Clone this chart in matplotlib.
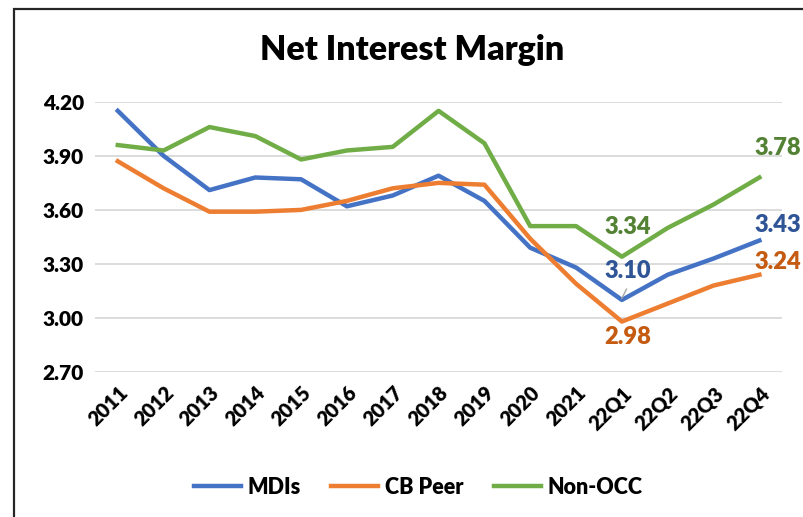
import matplotlib.pyplot as plt
from matplotlib.patches import Rectangle
from matplotlib.transforms import ScaledTranslation

# Net interest margin by period
periods = ["2011", "2012", "2013", "2014", "2015", "2016", "2017", "2018",
           "2019", "2020", "2021", "22Q1", "22Q2", "22Q3", "22Q4"]
mdis = [4.15, 3.90, 3.71, 3.78, 3.77, 3.62, 3.68, 3.79, 3.65, 3.39, 3.28,
        3.10, 3.24, 3.33, 3.43]
cb_peer = [3.87, 3.72, 3.59, 3.59, 3.60, 3.65, 3.72, 3.75, 3.74, 3.44, 3.19,
           2.98, 3.08, 3.18, 3.24]
non_occ = [3.96, 3.93, 4.06, 4.01, 3.88, 3.93, 3.95, 4.15, 3.97, 3.51, 3.51,
           3.34, 3.50, 3.63, 3.78]
yticks = [2.70, 3.00, 3.30, 3.60, 3.90, 4.20]

plt.rcParams['font.family'] = ['Lato', 'DejaVu Sans']
W = 'heavy'

fig = plt.figure(figsize=(8.04, 5.17), dpi=100)
ax = fig.add_axes([0.118, 0.2805, 0.855, 0.5225])

x = list(range(len(periods)))
c_blue, c_orange, c_green = "#4472C4", "#ED7D31", "#70AD47"
ax.plot(x, mdis, color=c_blue, lw=3.2, label="MDIs", solid_joinstyle='round')
ax.plot(x, cb_peer, color=c_orange, lw=3.2, label="CB Peer", solid_joinstyle='round')
ax.plot(x, non_occ, color=c_green, lw=3.2, label="Non-OCC", solid_joinstyle='round')

ax.set_xlim(-0.5, len(periods) - 0.5)
ax.set_ylim(2.70, 4.20)
ax.set_yticks(yticks)
ax.set_yticklabels([f"{v:.2f}" for v in yticks], fontsize=15, fontweight=W)
ax.set_xticks(x)
ax.set_xticklabels(periods, rotation=45, ha='right', rotation_mode='anchor',
                   fontsize=14.5, fontweight=W)
shift = ScaledTranslation(0.07, 0, fig.dpi_scale_trans)
for t in ax.get_xticklabels():
    t.set_transform(t.get_transform() + shift)
ax.tick_params(length=0, pad=8)
ax.grid(axis='y', color="#D9D9D9", lw=1.3)
ax.set_axisbelow(True)
for s in ax.spines.values():
    s.set_visible(False)

# data labels
q1 = periods.index("22Q1")
last = len(periods) - 1
lbl = dict(fontsize=17, fontweight=W, ha='center', va='center')
ax.text(q1 + 0.13, non_occ[q1] + 0.165, f"{non_occ[q1]:.2f}", color="#548235", **lbl)
ax.text(q1 + 0.13, mdis[q1] + 0.16, f"{mdis[q1]:.2f}", color="#2F5597", **lbl)
ax.text(q1 + 0.13, cb_peer[q1] - 0.087, f"{cb_peer[q1]:.2f}", color="#C55A11", **lbl)
ax.text(last + 0.4, non_occ[last] + 0.165, f"{non_occ[last]:.2f}", color="#548235", **lbl)
ax.text(last + 0.4, mdis[last] + 0.087, f"{mdis[last]:.2f}", color="#2F5597", **lbl)
ax.text(last + 0.4, cb_peer[last] + 0.07, f"{cb_peer[last]:.2f}", color="#C55A11", **lbl)
ax.plot([q1, q1 + 0.1], [mdis[q1] + 0.01, mdis[q1] + 0.06], color="#A6A6A6", lw=1)

fig.text(0.512, 0.903, "Net Interest Margin", ha='center', va='center',
         fontsize=24.5, fontweight=W)

fig.legend(loc='center', bbox_to_anchor=(0.52, 0.058), ncol=3, frameon=False,
           prop={'size': 15.5, 'weight': W}, handlelength=2.2,
           handletextpad=0.3, columnspacing=1.4)

fig.add_artist(Rectangle((14 / 804, -0.1), 1.2, 0.1 + 1 - 9 / 517,
                         transform=fig.transFigure, fill=False,
                         edgecolor="#262626", lw=1.6))

fig.savefig("out.png", dpi=100)
